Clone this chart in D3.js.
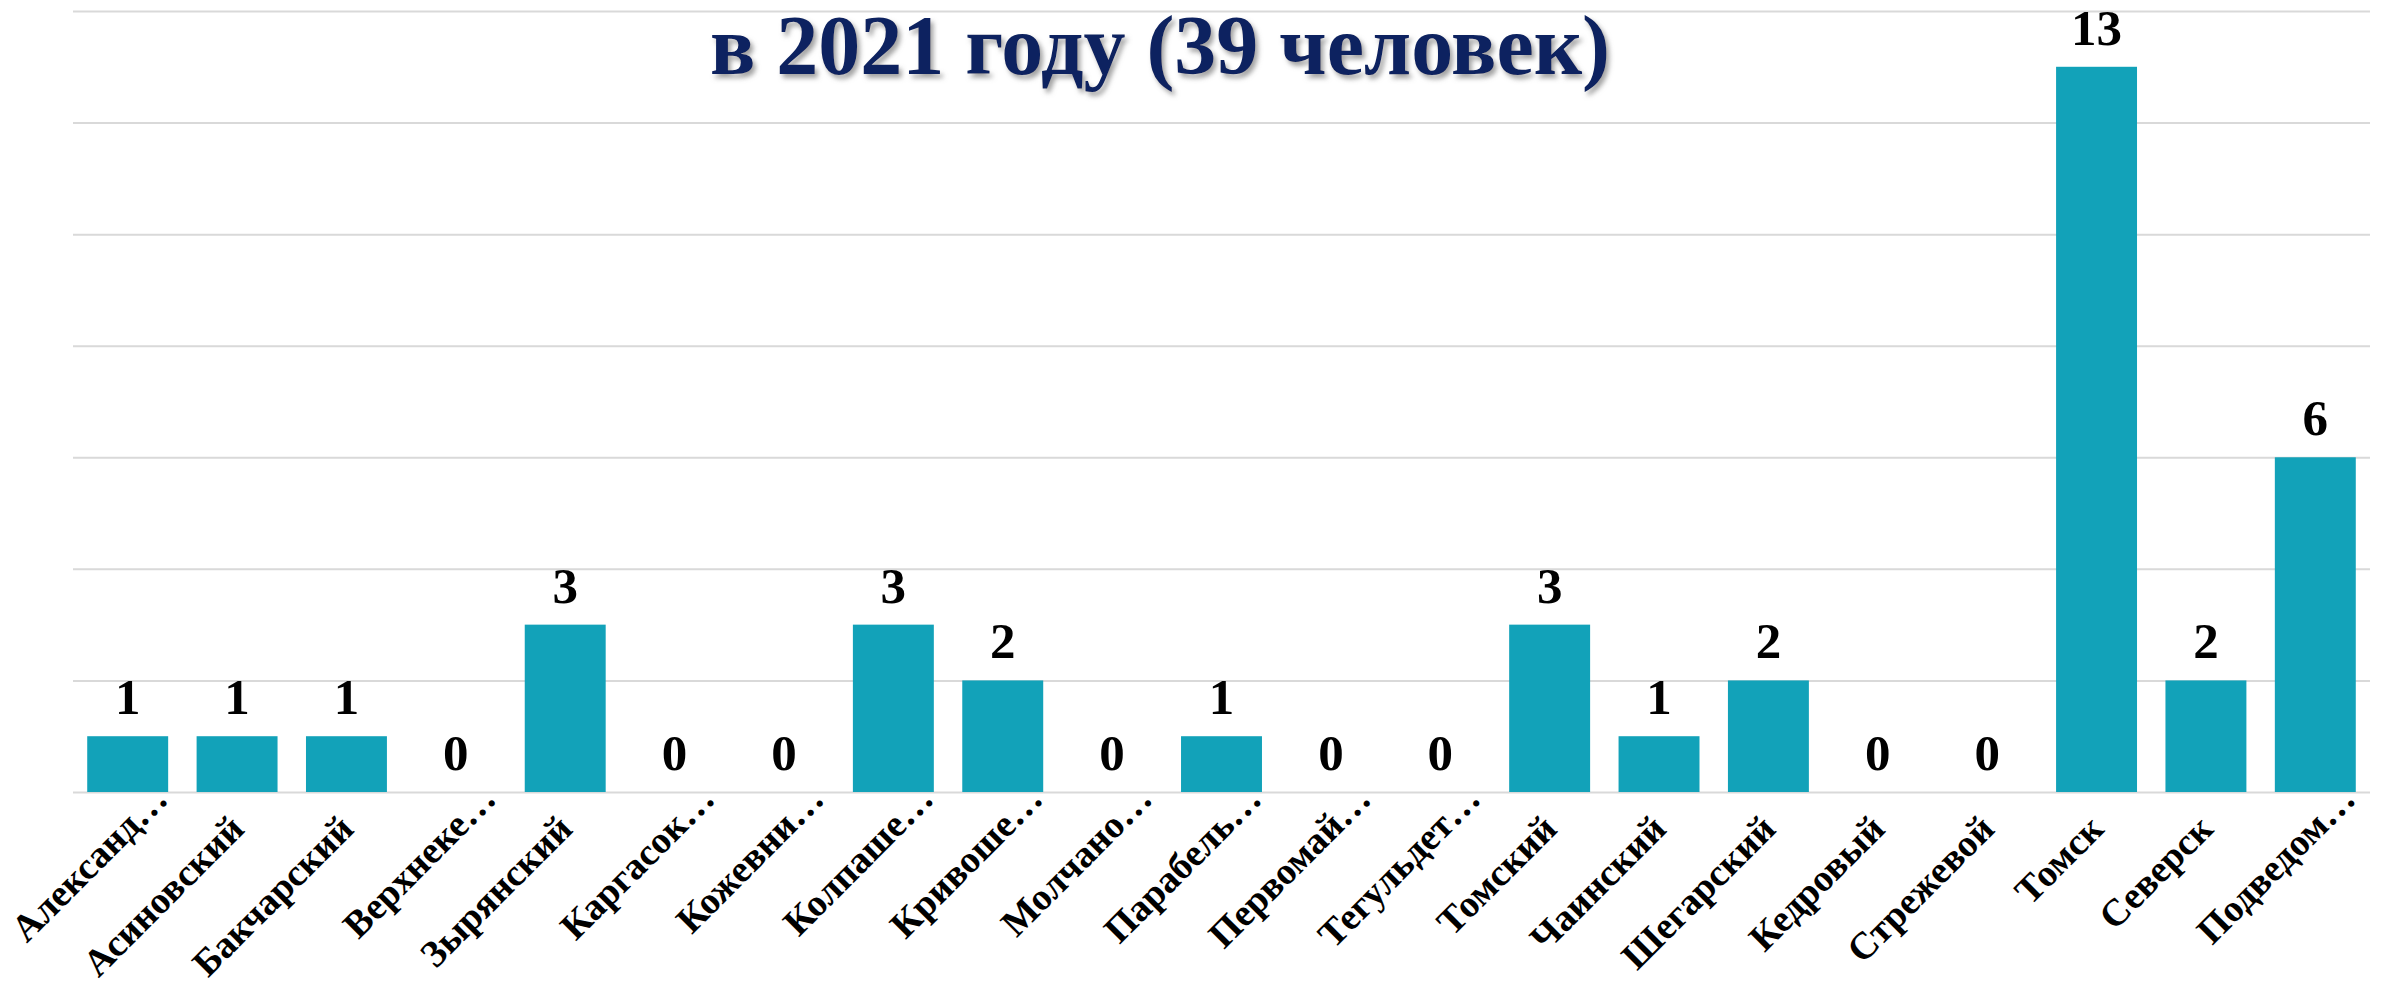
<!DOCTYPE html>
<html>
<head>
<meta charset="utf-8">
<script src="https://cdn.jsdelivr.net/npm/d3@7"></script>
<style>
    html, body { margin: 0; padding: 0; background: #fff; }
    #chart { width: 2382px; height: 983px; }
    .bar-label { font-family: "Liberation Serif", "Times New Roman", serif; font-weight: bold; }
    .cat-label { font-family: "Liberation Serif", "Times New Roman", serif; font-weight: bold; }
</style>
</head>
<body>
<div id="chart"></div>
<script>
const categories = ["Александ…", "Асиновский", "Бакчарский", "Верхнеке…", "Зырянский", "Каргасок…",
    "Кожевни…", "Колпаше…", "Кривоше…", "Молчано…", "Парабель…", "Первомай…", "Тегульдет…",
    "Томский", "Чаинский", "Шегарский", "Кедровый", "Стрежевой", "Томск", "Северск", "Подведом…"];
const values = [1, 1, 1, 0, 3, 0, 0, 3, 2, 0, 1, 0, 0, 3, 1, 2, 0, 0, 13, 2, 6];
const gridTicks = [0, 2, 4, 6, 8, 10, 12, 14];
const titleText = "в 2021 году (39 человек)";

const width = 2382;
const height = 983;
const margin = { left: 73, right: 12, top: 11, bottom: 191 };
const barColor = "#12a2b9";

const svg = d3.select("#chart")
    .append("svg")
    .attr("width", width)
    .attr("height", height);

// shadow for the title
const defs = svg.append("defs");
const shadow = defs.append("filter")
    .attr("id", "shadow")
    .attr("x", "-10%").attr("y", "-30%")
    .attr("width", "120%").attr("height", "160%");
shadow.append("feDropShadow")
    .attr("dx", 3)
    .attr("dy", 4)
    .attr("stdDeviation", 2.5)
    .attr("flood-color", "#7a7a7a")
    .attr("flood-opacity", 0.7);

const x = d3.scaleBand()
    .domain(categories)
    .range([margin.left, width - margin.right])
    .paddingInner(0.26)
    .paddingOuter(0.13);

const y = d3.scaleLinear()
    .domain([0, 14])
    .range([height - margin.bottom, margin.top]);

// gridlines (no tick labels in the original)
const yAxis = d3.axisLeft(y)
    .tickValues(gridTicks)
    .tickSize(-(width - margin.left - margin.right))
    .tickFormat("");

svg.append("g")
    .attr("class", "grid")
    .attr("transform", `translate(${margin.left},0)`)
    .call(yAxis)
    .call(g => g.select(".domain").remove())
    .call(g => g.selectAll("line")
        .attr("stroke", "#d9d9d9")
        .attr("stroke-width", 2));

svg.append("g")
    .selectAll("rect")
    .data(values)
    .enter().append("rect")
    .attr("x", (d, i) => x(categories[i]))
    .attr("y", d => y(d))
    .attr("width", x.bandwidth())
    .attr("height", d => y(0) - y(d))
    .attr("fill", barColor);

svg.append("g")
    .selectAll("text")
    .data(values)
    .enter().append("text")
    .attr("class", "bar-label")
    .attr("x", (d, i) => x(categories[i]) + x.bandwidth() / 2)
    .attr("y", d => y(d) - 22)
    .attr("text-anchor", "middle")
    .attr("font-size", 51)
    .attr("fill", "#000")
    .text(d => d);

// category labels, rotated -45; excel pushes the truncated ones further along
const xAxis = d3.axisBottom(x).tickSize(0).tickPadding(0);

svg.append("g")
    .attr("transform", `translate(0,${y(0)})`)
    .call(xAxis)
    .call(g => g.select(".domain").remove())
    .call(g => g.selectAll("text")
        .attr("class", "cat-label")
        .attr("font-size", 38)
        .attr("fill", "#000")
        .attr("text-anchor", "end")
        .attr("x", 0)
        .attr("y", 0)
        .attr("dy", 0)
        .attr("transform", d => d.endsWith("…")
            ? "translate(42,9) rotate(-45)"
            : "translate(9,39) rotate(-45)"));

svg.append("text")
    .attr("x", 1160)
    .attr("y", 74)
    .attr("text-anchor", "middle")
    .attr("font-family", "'Liberation Serif', 'Times New Roman', serif")
    .attr("font-weight", "bold")
    .attr("font-size", 84)
    .attr("fill", "#0c2461")
    .attr("filter", "url(#shadow)")
    .text(titleText);
</script>
</body>
</html>
